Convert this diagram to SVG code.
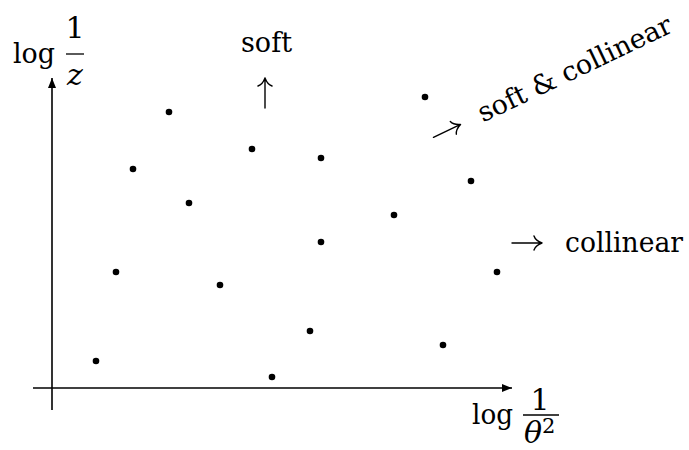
<svg xmlns="http://www.w3.org/2000/svg" width="689" height="450" viewBox="0 0 689 450">
<style>
.i{font-style:italic}
.w{font-size:28px}
.ax{stroke:#000;stroke-width:1.6;fill:none}
.bar{stroke:#000;stroke-width:1.3}
.arr{stroke:#000;stroke-width:1.4;fill:none;stroke-linecap:round}
.dot{fill:#000}
</style>
<defs>
<marker id="ah" viewBox="0 0 10 8" refX="10" refY="4" markerWidth="10" markerHeight="8" markerUnits="userSpaceOnUse" orient="auto">
<path d="M0,0 L10,4 L0,8 Z" fill="#000"/>
</marker>
<path id="rarr" d="M0,0 H30 M30,0 C26,-1.5 23,-4 22,-7 M30,0 C26,1.5 23,4 22,7"/>
</defs>
<g id="connectors">
<line class="ax" x1="33" y1="388" x2="512" y2="388" marker-end="url(#ah)"/>
<line class="ax" x1="52" y1="410" x2="52" y2="78" marker-end="url(#ah)"/>
</g>
<g font-family="DejaVu Serif, Liberation Serif, serif" font-size="30" fill="#000">
<g id="ylabel">
<text class="w" x="13" y="63" textLength="42" lengthAdjust="spacingAndGlyphs">log</text>
<text x="75" y="38" text-anchor="middle">1</text>
<line class="bar" x1="66" y1="54" x2="84" y2="54"/>
<text class="i" x="75" y="85" text-anchor="middle">z</text>
</g>
<g id="xlabel">
<text class="w" x="472" y="424" textLength="41" lengthAdjust="spacingAndGlyphs">log</text>
<text x="540" y="410" text-anchor="middle">1</text>
<line class="bar" x1="523" y1="415" x2="559" y2="415"/>
<text x="524" y="443"><tspan class="i">θ</tspan><tspan font-size="21" dy="-10">2</tspan></text>
</g>
<g id="soft">
<text class="w" x="241" y="52" textLength="51" lengthAdjust="spacingAndGlyphs">soft</text>
<use href="#rarr" class="arr" transform="translate(265,108) rotate(-90)"/>
</g>
<g id="collinear">
<use href="#rarr" class="arr" transform="translate(512,243)"/>
<text x="565" y="252" font-size="27" textLength="118" lengthAdjust="spacingAndGlyphs">collinear</text>
</g>
<g id="softcollinear" transform="translate(436,145) rotate(-25.5)">
<use href="#rarr" class="arr" transform="translate(1,-8)"/>
<text x="52" y="0" font-size="27" textLength="212" lengthAdjust="spacingAndGlyphs">soft &amp; collinear</text>
</g>
</g>
<g id="points">
<circle class="dot" cx="169" cy="112" r="3.3"/>
<circle class="dot" cx="425" cy="97" r="3.3"/>
<circle class="dot" cx="252" cy="149" r="3.3"/>
<circle class="dot" cx="321" cy="158" r="3.3"/>
<circle class="dot" cx="133" cy="169" r="3.3"/>
<circle class="dot" cx="471" cy="181" r="3.3"/>
<circle class="dot" cx="189" cy="203" r="3.3"/>
<circle class="dot" cx="394" cy="215" r="3.3"/>
<circle class="dot" cx="321" cy="242" r="3.3"/>
<circle class="dot" cx="116" cy="272" r="3.3"/>
<circle class="dot" cx="497" cy="272" r="3.3"/>
<circle class="dot" cx="220" cy="285" r="3.3"/>
<circle class="dot" cx="310" cy="331" r="3.3"/>
<circle class="dot" cx="443" cy="345" r="3.3"/>
<circle class="dot" cx="96" cy="361" r="3.3"/>
<circle class="dot" cx="272" cy="377" r="3.3"/>
</g>
</svg>
